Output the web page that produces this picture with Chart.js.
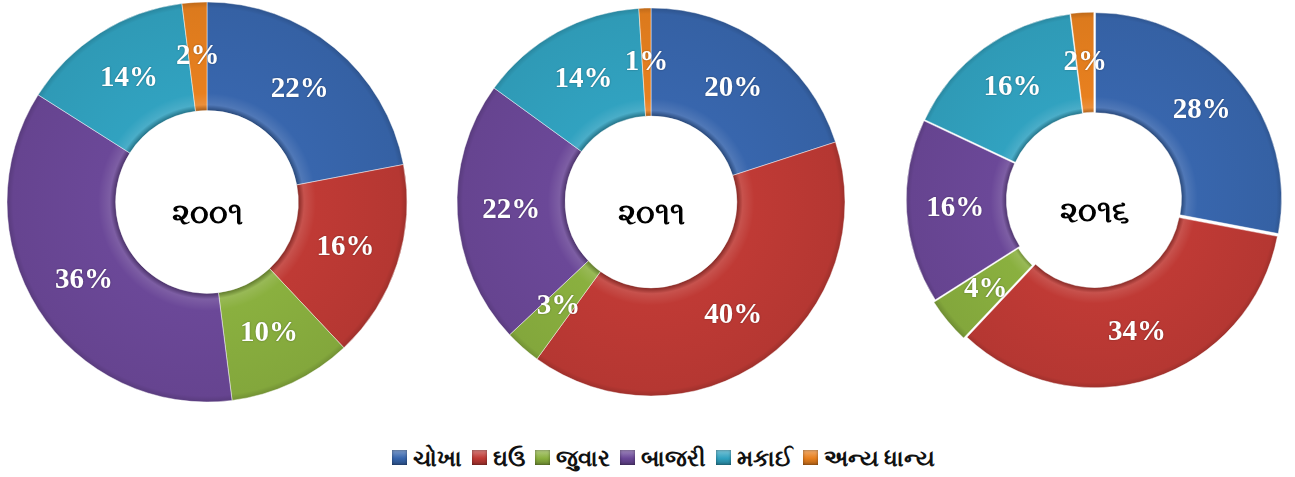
<!DOCTYPE html>
<html>
<head>
<meta charset="utf-8">
<script src="https://cdn.jsdelivr.net/npm/chart.js@4.4.1/dist/chart.umd.min.js"></script>
<style>
  html, body { margin: 0; padding: 0; background: #fff; overflow: hidden; }
  body { width: 1295px; height: 477px; position: relative; }
  .pie { position: absolute; width: 430px; height: 430px; }
  #legend {
    position: absolute; left: 16px; width: 1295px; top: 441px;
    display: flex; justify-content: center; align-items: center;
    font: bold 23px "Noto Sans", "DejaVu Sans", sans-serif; color: #111;
  }
  #legend span.item { display: inline-flex; align-items: center; margin: 0 5px; }
  #legend span.box { width: 15px; height: 15px; margin-right: 6px; box-shadow: inset 0 0 3px rgba(0,0,0,0.45); }
</style>
</head>
<body>
<div class="pie" style="left:-8px; top:-13px;"><canvas id="c2001"></canvas></div>
<div class="pie" style="left:436px; top:-13px;"><canvas id="c2011"></canvas></div>
<div class="pie" style="left:879px; top:-15px;"><canvas id="c2016"></canvas></div>
<div id="legend"></div>
<script>
// crop categories (Gujarati)
const categories = ['ચોખા', 'ઘઉ', 'જુવાર', 'બાજરી', 'મકાઈ', 'અન્ય ધાન્ય'];
const years = ['૨૦૦૧', '૨૦૧૧', '૨૦૧૬'];
// shares in percent
const values2001 = [22, 16, 10, 36, 14, 2];
const values2011 = [20, 40, 3, 22, 14, 1];
const values2016 = [28, 34, 4, 16, 16, 2];
const colors = ['#3866ad', '#bf3a35', '#8ab03f', '#6b4898', '#31a2c0', '#e8801f'];

function shade(hex, amt) {
    let n = parseInt(hex.slice(1), 16);
    let r = (n >> 16) & 255, g = (n >> 8) & 255, b = n & 255;
    const f = v => Math.max(0, Math.min(255, Math.round(amt < 0 ? v * (1 + amt) : v + (255 - v) * amt)));
    return 'rgb(' + f(r) + ',' + f(g) + ',' + f(b) + ')';
}

// bevel look: radial gradient across the ring
function bevel(ctx) {
    const chart = ctx.chart;
    const base = colors[ctx.dataIndex];
    const area = chart.chartArea;
    if (!area) return base;
    const c = chart.getDatasetMeta(0).controller;
    if (!c || !c.outerRadius) return base;
    const cx = (area.left + area.right) / 2, cy = (area.top + area.bottom) / 2;
    const g = chart.ctx.createRadialGradient(cx, cy, c.innerRadius, cx, cy, c.outerRadius + 8);
    g.addColorStop(0, shade(base, -0.3));
    g.addColorStop(0.05, shade(base, 0.12));
    g.addColorStop(0.15, base);
    g.addColorStop(0.88, shade(base, -0.05));
    g.addColorStop(1, shade(base, -0.35));
    return g;
}

const labelPlugin = {
    id: 'pctLabels',
    afterDatasetsDraw(chart) {
        const ctx = chart.ctx;
        const meta = chart.getDatasetMeta(0);
        const data = chart.data.datasets[0].data;
        ctx.save();
        ctx.font = 'bold 29px "Liberation Serif", "Times New Roman", serif';
        ctx.fillStyle = '#fff';
        ctx.textAlign = 'center';
        ctx.textBaseline = 'middle';
        ctx.shadowColor = 'rgba(0,0,0,0.35)';
        ctx.shadowBlur = 2;
        meta.data.forEach((arc, i) => {
            const p = arc.tooltipPosition();
            ctx.fillText(data[i] + '%', p.x, p.y);
        });
        ctx.shadowColor = 'transparent';
        const area = chart.chartArea;
        ctx.fillStyle = '#000';
        ctx.font = 'bold 31px "Noto Sans", "DejaVu Sans", sans-serif';
        ctx.fillText(chart.options.plugins.centerText, (area.left + area.right) / 2, (area.top + area.bottom) / 2 + 13);
        ctx.restore();
    }
};

function makePie(id, values, year, radius, cutout, offsets) {
    return new Chart(document.getElementById(id), {
        type: 'doughnut',
        data: {
            labels: categories,
            datasets: [{
                data: values,
                backgroundColor: bevel,
                borderColor: 'rgba(255,255,255,0.45)',
                borderWidth: 1,
                offset: offsets || 0
            }]
        },
        options: {
            responsive: true,
            maintainAspectRatio: false,
            animation: false,
            radius: radius,
            cutout: cutout,
            layout: { padding: 0 },
            plugins: {
                legend: { display: false },
                tooltip: { enabled: false },
                centerText: year
            }
        },
        plugins: [labelPlugin]
    });
}

makePie('c2001', values2001, years[0], 200, 98);
makePie('c2011', values2011, years[1], 194, 95);
makePie('c2016', values2016, years[2], 186, 97, [8, 6, 9, 6, 5, 4]);

const legend = document.getElementById('legend');
categories.forEach((name, i) => {
    const item = document.createElement('span');
    item.className = 'item';
    const box = document.createElement('span');
    box.className = 'box';
    box.style.background = 'linear-gradient(180deg,' + shade(colors[i], 0.35) + ',' + colors[i] + ' 55%,' + shade(colors[i], -0.25) + ')';
    item.appendChild(box);
    item.appendChild(document.createTextNode(name));
    legend.appendChild(item);
});
</script>
</body>
</html>
